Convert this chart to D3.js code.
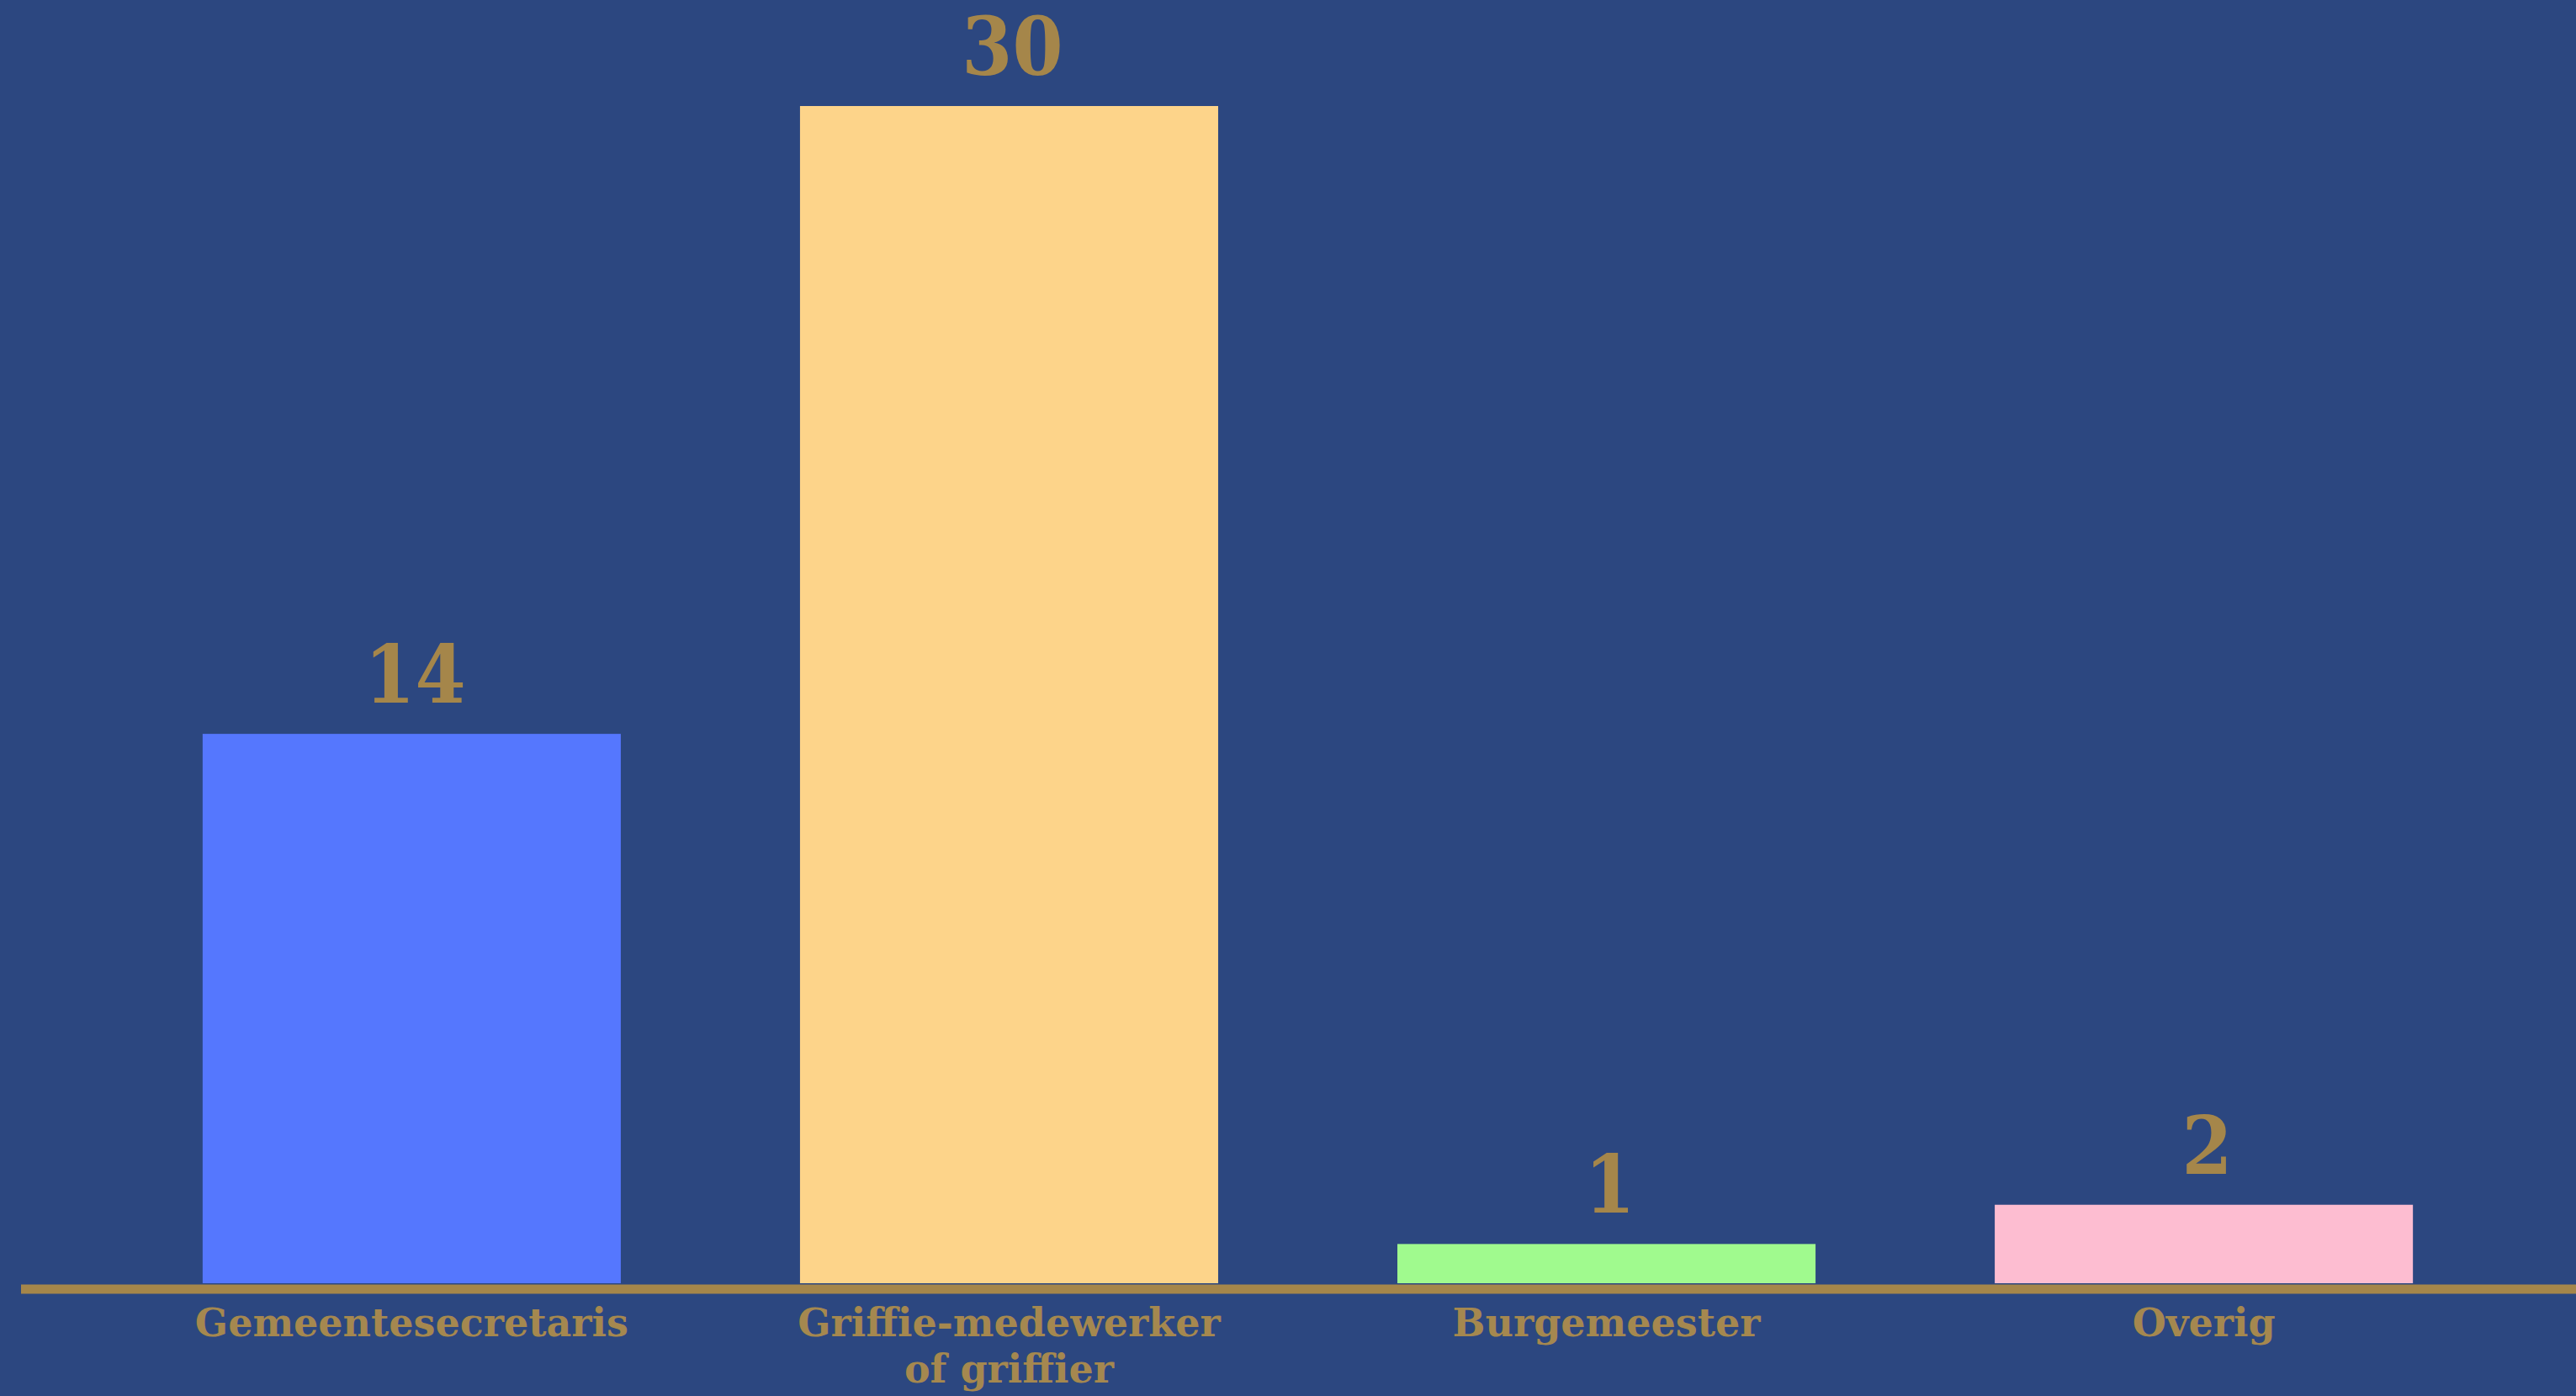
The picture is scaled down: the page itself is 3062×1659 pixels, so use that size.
<!DOCTYPE html>
<html>
<head>
<meta charset="utf-8">
<script src="https://cdn.jsdelivr.net/npm/d3@7"></script>
<style>
  html, body { margin: 0; padding: 0; background: #2c4780; }
  svg { display: block; }
</style>
</head>
<body>
<svg id="chart" width="3062" height="1659"></svg>
<script>
const categories = ["Gemeentesecretaris", "Griffie-medewerker\nof griffier", "Burgemeester", "Overig"];
const values = [14, 30, 1, 2];
const colors = ["#5577fe", "#fdd48a", "#a0fa8e", "#fdbdd1"];

const W = 3062, H = 1659;
const svg = d3.select("#chart");
svg.append("rect").attr("width", W).attr("height", H).attr("fill", "#2c4780");

const x = d3.scaleBand().domain(categories).range([47, 3062]).paddingInner(0.3).paddingOuter(0.273);
const y = d3.scaleLinear().domain([0, 30]).range([1525, 126]);

const gold = "#a5864a";
const font = "'DejaVu Serif', 'Liberation Serif', serif";
const fontCond = "'DejaVu Serif Condensed', 'DejaVu Serif', serif";

svg.selectAll("rect.bar").data(values).enter().append("rect")
  .attr("class", "bar")
  .attr("x", (d, i) => x(categories[i]))
  .attr("width", x.bandwidth())
  .attr("y", d => y(d))
  .attr("height", d => y(0) - y(d))
  .attr("fill", (d, i) => colors[i]);

svg.selectAll("text.val").data(values).enter().append("text")
  .attr("class", "val")
  .attr("x", (d, i) => x(categories[i]) + x.bandwidth() / 2 + 4)
  .attr("y", d => y(d) - 37)
  .attr("text-anchor", "middle")
  .attr("font-family", fontCond)
  .attr("font-stretch", "condensed")
  .attr("font-weight", "bold")
  .attr("font-size", 96)
  .attr("fill", gold)
  .text(d => d);

// axis
const axis = d3.axisBottom(x).tickSize(0).tickPadding(0);
const gAxis = svg.append("g").attr("transform", `translate(0, ${y(0) + 7})`).call(axis);
gAxis.select(".domain").remove();
gAxis.append("line").attr("x1", 25).attr("x2", W).attr("y1", 0).attr("y2", 0)
  .attr("stroke", gold).attr("stroke-width", 11);
gAxis.selectAll(".tick text").each(function(d) {
  const t = d3.select(this);
  t.text(null)
    .attr("fill", "#a5884f")
    .attr("font-family", font)
    .attr("font-weight", "bold")
    .attr("font-size", 46)
    .attr("dy", null)
    .attr("y", 0);
  d.split("\n").forEach((line, k) => {
    t.append("tspan").attr("x", 0).attr("y", 56 + k * 55).text(line);
  });
});
</script>
</body>
</html>
